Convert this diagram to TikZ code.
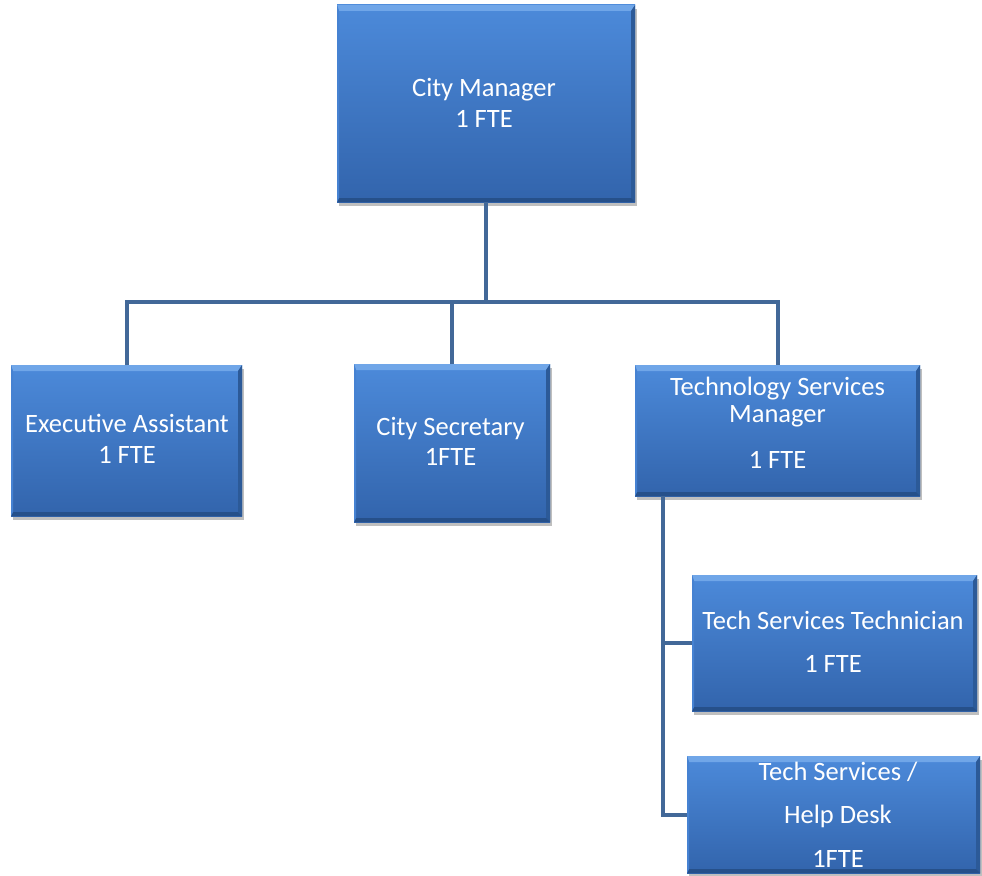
\documentclass[tikz,border=0pt]{standalone}
\usepackage{fontspec}
\setmainfont{Carlito}
\usetikzlibrary{calc,shadows}
\definecolor{boxtop}{RGB}{76,138,218}
\definecolor{boxbot}{RGB}{50,100,172}
\definecolor{bevtopc}{RGB}{112,166,232}
\definecolor{bevleftc}{RGB}{70,130,210}
\definecolor{bevrightc}{RGB}{44,90,152}
\definecolor{bevbotc}{RGB}{38,80,138}
\definecolor{linec}{RGB}{66,104,152}
\tikzset{
  orgbox/.style={rectangle, inner sep=0pt, outer sep=0pt, top color=boxtop, bottom color=boxbot,
    drop shadow={shadow xshift=2pt, shadow yshift=-4pt, opacity=0.25, fill=black}},
  conn/.style={draw=linec, line width=4pt},
  lbl/.style={anchor=base, text=white, font=\fontsize{26.5}{30}\selectfont, inner sep=0pt},
}
\begin{document}
\begin{tikzpicture}[x=1pt,y=-1pt]
\useasboundingbox (0,0) rectangle (982,875);
\fill[white] (0,0) rectangle (982,875);

\coordinate (bar) at (0,302);
\coordinate (spine) at (663,0);

% boxes
\node[orgbox, minimum width=298pt, minimum height=197pt] (cm) at (486,103.5) {};
\node[orgbox, minimum width=231pt, minimum height=151pt] (ea) at (126.5,440.5) {};
\node[orgbox, minimum width=196pt, minimum height=158pt] (cs) at (452,443) {};
\node[orgbox, minimum width=285pt, minimum height=131pt] (tsm) at (777.5,430.5) {};
\node[orgbox, minimum width=285pt, minimum height=136pt] (tech) at (834.5,643) {};
\node[orgbox, minimum width=293pt, minimum height=117pt] (hd) at (833.5,814.5) {};

% bevel edges
\foreach \n in {cm,ea,cs,tsm,tech,hd}{
  \fill[bevtopc] (\n.north west) -- (\n.north east) -- ($(\n.north east)+(-4pt,-6pt)$) -- ($(\n.north west)+(2pt,-6pt)$) -- cycle;
  \fill[bevrightc] (\n.north east) -- (\n.south east) -- ($(\n.south east)+(-4pt,4pt)$) -- ($(\n.north east)+(-4pt,-6pt)$) -- cycle;
  \fill[bevbotc] (\n.south east) -- (\n.south west) -- ($(\n.south west)+(2pt,4pt)$) -- ($(\n.south east)+(-4pt,4pt)$) -- cycle;
  \fill[bevleftc] (\n.south west) -- (\n.north west) -- ($(\n.north west)+(2pt,-6pt)$) -- ($(\n.south west)+(2pt,4pt)$) -- cycle;
}

% connectors
\draw[conn] (cm.south) -- (cm.south |- bar);
\draw[conn] (ea.north) |- (tsm.north |- bar) -- (tsm.north);
\draw[conn] (cs.north) -- (cs.north |- bar);
\draw[conn] (spine |- tsm.south) |- (hd.west);
\draw[conn] (spine |- tech.west) -- (tech.west);

% labels
\node[lbl] (cmA) at (484,96) {City Manager};
\node[lbl] (cmB) at (484,127) {1 FTE};
\node[lbl] (eaA) at (127,432) {Executive Assistant};
\node[lbl] (eaB) at (127,463) {1 FTE};
\node[lbl] (csA) at (450.5,435) {City Secretary};
\node[lbl] (csB) at (450.5,465) {1FTE};
\node[lbl] (tsmA) at (777.5,395) {Technology Services};
\node[lbl] (tsmB) at (777.5,422) {Manager};
\node[lbl] (tsmC) at (777.5,468) {1 FTE};
\node[lbl] (techA) at (833,629) {Tech Services Technician};
\node[lbl] (techB) at (833,672) {1 FTE};
\node[lbl] (hdA) at (838,780) {Tech Services /};
\node[lbl] (hdB) at (838,823) {Help Desk};
\node[lbl] (hdC) at (838,867) {1FTE};
\end{tikzpicture}
\end{document}
